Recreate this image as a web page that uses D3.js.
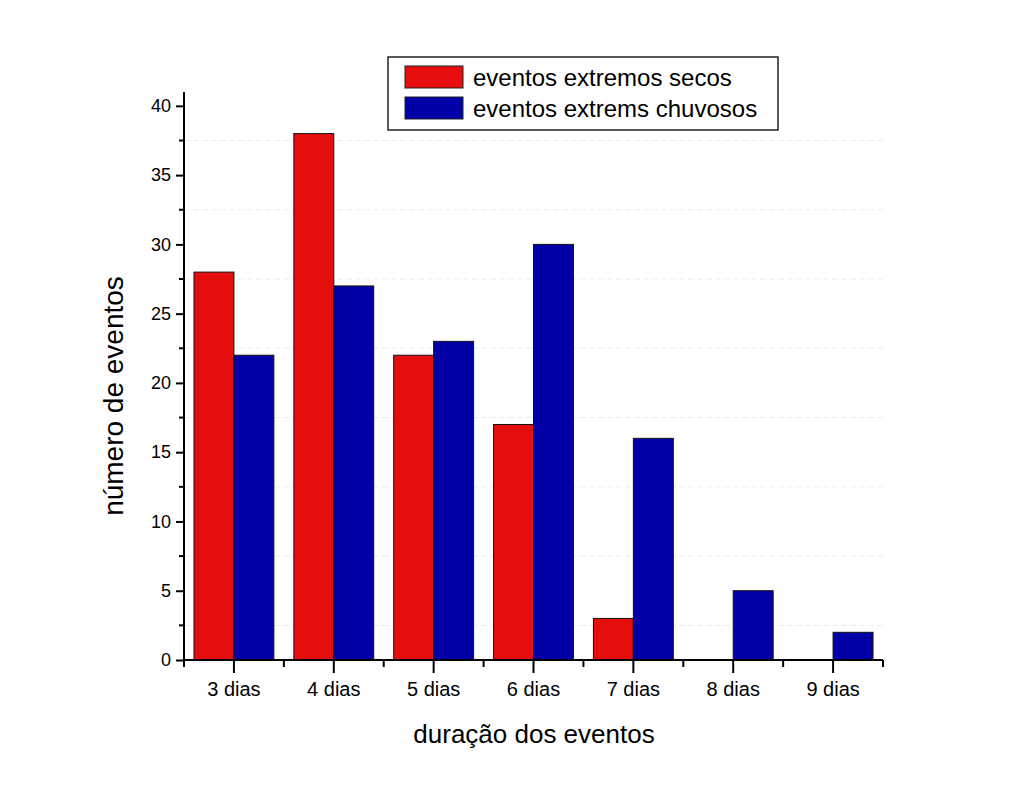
<!DOCTYPE html>
<html><head><meta charset="utf-8">
<script src="https://cdn.jsdelivr.net/npm/d3@7"></script>
<style>body{margin:0;background:#fff}svg{display:block}text{font-family:Arial,"Liberation Sans",sans-serif}</style>
</head><body>
<svg id="c" width="1024" height="791"></svg>
<script>
const categories = ["3 dias","4 dias","5 dias","6 dias","7 dias","8 dias","9 dias"];
const seriesNames = ["eventos extremos secos","eventos extrems chuvosos"];
const secos = [28,38,22,17,3,0,0];
const chuvosos = [22,27,23,30,16,5,2];
const yTicks = [0,5,10,15,20,25,30,35,40];
const yMinor = [2.5,7.5,12.5,17.5,22.5,27.5,32.5,37.5];
const colors = ["#e60d0d","#0000a6"];

const svg = d3.select("#c");
const L=184, R=883, T=92, B=660;
const x = d3.scaleBand().domain(categories).range([L,R]).paddingInner(0).paddingOuter(0);
const y = d3.scaleLinear().domain([0,41]).range([B,T]);
const bw = x.bandwidth()*0.4;

// faint gridlines
svg.append("g").selectAll("line").data(yMinor).join("line")
  .attr("x1",L).attr("x2",R).attr("y1",d=>y(d)).attr("y2",d=>y(d))
  .attr("stroke","#ececec").attr("stroke-width",1).attr("stroke-dasharray","6,3");

const series=[secos,chuvosos];
series.forEach((s,si)=>{
  svg.append("g").selectAll("rect").data(categories).join("rect")
    .attr("x",c=>x(c)+x.bandwidth()*0.1+si*bw)
    .attr("y",(c,i)=>y(s[i]))
    .attr("width",bw)
    .attr("height",(c,i)=>y(0)-y(s[i]))
    .attr("fill",colors[si])
    .attr("stroke","#111").attr("stroke-width",(c,i)=>s[i]>0?1:0);
});

// y axis
const ya = svg.append("g").attr("transform",`translate(${L},0)`)
  .call(d3.axisLeft(y).tickValues(yTicks).tickSize(8).tickPadding(5));
ya.select(".domain").attr("stroke-width",2).attr("d",`M0,${B}V${T}`);
ya.selectAll(".tick line").attr("stroke-width",2);
ya.selectAll("text").attr("font-size",18).attr("fill","#000");
svg.append("g").selectAll("line").data(yMinor).join("line")
  .attr("x1",L-5).attr("x2",L).attr("y1",d=>y(d)).attr("y2",d=>y(d))
  .attr("stroke","#000").attr("stroke-width",2);

// x axis
const xa = svg.append("g").attr("transform",`translate(0,${B})`)
  .call(d3.axisBottom(x).tickSize(13).tickPadding(9));
xa.select(".domain").attr("stroke-width",2).attr("d",`M${L},0H${R}`);
xa.selectAll(".tick line").attr("stroke-width",2);
xa.selectAll("text").attr("font-size",20).attr("fill","#000");
const bounds = categories.map(c=>x(c)).concat([R]);
svg.append("g").selectAll("line").data(bounds).join("line")
  .attr("x1",d=>d).attr("x2",d=>d).attr("y1",B).attr("y2",B+7)
  .attr("stroke","#000").attr("stroke-width",2);

// titles
svg.append("text").attr("x",534).attr("y",743).attr("text-anchor","middle")
  .attr("font-size",26).text("duração dos eventos");
svg.append("text").attr("transform","translate(123,396) rotate(-90)").attr("text-anchor","middle")
  .attr("font-size",28).text("número de eventos");

// legend
const lg = svg.append("g");
lg.append("rect").attr("x",388).attr("y",57).attr("width",390).attr("height",73)
  .attr("fill","#fff").attr("stroke","#222").attr("stroke-width",1.5);
seriesNames.forEach((n,i)=>{
  lg.append("rect").attr("x",405).attr("y",66+i*31).attr("width",58).attr("height",22)
    .attr("fill",colors[i]).attr("stroke","#222").attr("stroke-width",1);
  lg.append("text").attr("x",473).attr("y",86+i*31).attr("font-size",24).text(n);
});
</script>
</body></html>
